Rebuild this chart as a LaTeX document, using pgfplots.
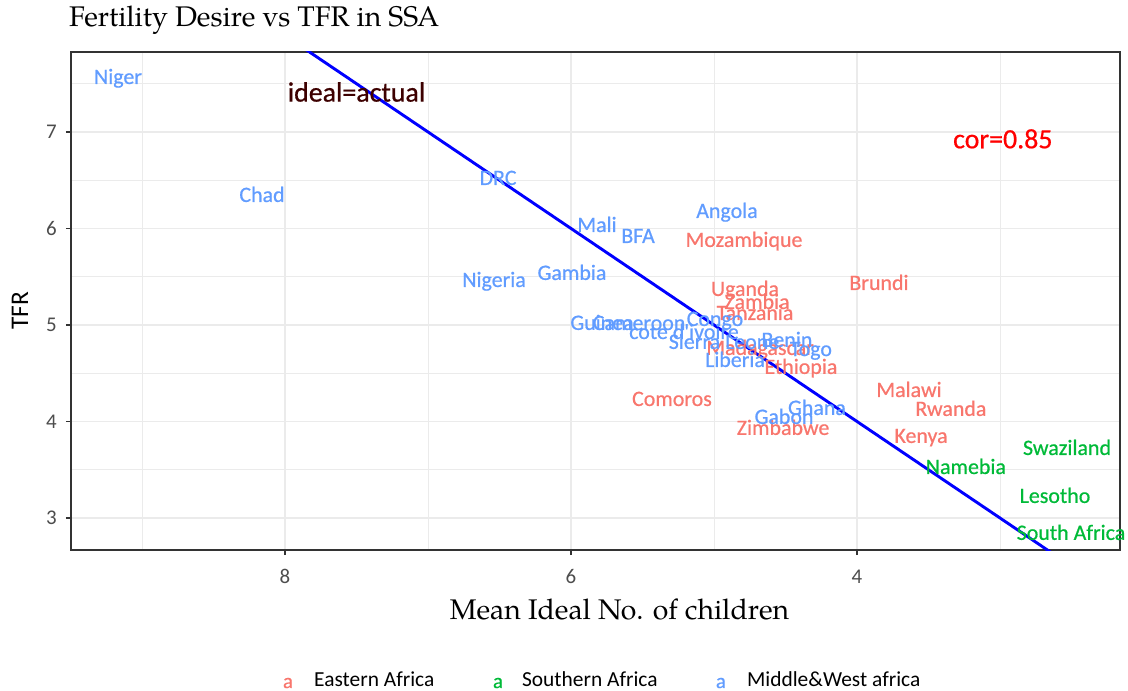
\documentclass[border=0pt]{standalone}
\usepackage{pgfplots}
\pgfplotsset{compat=1.18}
\usepackage{fontspec}
\setmainfont{Carlito}
\newfontfamily\pal{TeX Gyre Pagella}
\newfontfamily\lab{Carlito}[FakeBold=0.6]
\definecolor{eastc}{HTML}{F8766D}
\definecolor{southc}{HTML}{00BA38}
\definecolor{westc}{HTML}{619CFF}
\definecolor{gridc}{HTML}{EBEBEB}
\definecolor{axisc}{HTML}{333333}
\definecolor{tickc}{HTML}{4D4D4D}
\definecolor{idealc}{HTML}{3D0000}
\newcommand\fs[1]{\fontsize{#1}{#1}\selectfont}
\begin{document}
\begin{tikzpicture}
\useasboundingbox (-71bp,-141bp) rectangle (1057bp,550bp);
\begin{axis}[
  scale only axis, width=1049bp, height=498bp,
  x dir=reverse,
  xmin=2.161, xmax=9.497, ymin=2.668, ymax=7.829,
  xtick={4,6,8}, ytick={3,4,5,6,7},
  minor xtick={3,5,7,9}, minor ytick={3.5,4.5,5.5,6.5,7.5},
  grid=both,
  major grid style={color=gridc, line width=1.8bp},
  minor grid style={color=gridc, line width=0.9bp},
  axis line style={color=axisc, line width=1.8bp},
  tick style={color=axisc, line width=1.2bp},
  major tick length=5bp, minor tick length=0pt,
  tick align=outside, tick pos=left,
  clip mode=individual,
  /pgf/number format/assume math mode=true,
  ticklabel style={font=\fs{21}, text=tickc, inner sep=0pt, text height=13.3bp, text depth=0pt},
  xticklabel style={anchor=north, yshift=-15bp},
  yticklabel style={anchor=east, xshift=-9bp},
  title={Fertility Desire vs TFR in SSA},
  title style={font=\pal\fs{28.5}, anchor=base west, at={(-0.0019,1.0396)}, inner sep=0pt},
  xlabel={Mean Ideal No. of children},
  xlabel style={font=\pal\fs{28.5}, anchor=base, at={(0.5229,-0.1392)}, inner sep=0pt},
  ylabel={TFR},
  ylabel style={font=\fs{25.5}, at={(-0.0486,0.48)}, anchor=center, inner sep=0pt, text height=16.1bp, text depth=0pt},
  every node near coord/.append style={font=\lab\fs{22}, anchor=center, inner sep=0pt, text height=13.9bp, text depth=0pt},
]
\addplot[color=blue, line width=2.9bp] coordinates {(10,10) (2,2)};

% Eastern Africa
\addplot[draw=none, mark=none, nodes near coords, point meta=explicit symbolic,
  every node near coord/.append style={text=eastc}]
  table[col sep=comma, row sep=\\, x=x, y=y, meta=label] {
x,y,label\\
4.790,5.881,Mozambique\\
4.783,5.373,Uganda\\
4.699,5.238,Zambia\\
4.713,5.124,Tanzania\\
3.846,5.435,Brundi\\
4.678,4.762,Madagascar\\
4.392,4.565,Ethiopia\\
5.294,4.233,Comoros\\
4.517,3.933,Zimbabwe\\
3.636,4.326,Malawi\\
3.343,4.130,Rwanda\\
3.552,3.850,Kenya\\
};

% Southern Africa
\addplot[draw=none, mark=none, nodes near coords, point meta=explicit symbolic,
  every node near coord/.append style={text=southc}]
  table[col sep=comma, row sep=\\, x=x, y=y, meta=label] {
x,y,label\\
2.531,3.725,Swaziland\\
3.238,3.528,Namebia\\
2.615,3.228,Lesotho\\
2.503,2.845,South Africa\\
};

% Middle & West Africa
\addplot[draw=none, mark=none, nodes near coords, point meta=explicit symbolic,
  every node near coord/.append style={text=westc}]
  table[col sep=comma, row sep=\\, x=x, y=y, meta=label] {
x,y,label\\
9.168,7.570,Niger\\
8.161,6.347,Chad\\
6.510,6.523,DRC\\
5.818,6.036,Mali\\
5.531,5.922,BFA\\
4.909,6.181,Angola\\
6.538,5.466,Nigeria\\
5.993,5.539,Gambia\\
5.783,5.021,Guinea\\
5.524,5.020,Cameroon\\
4.993,5.062,Congo\\
5.210,4.927,cote d'ivoire\\
4.930,4.824,Sierra Leone\\
4.490,4.845,Benin\\
4.322,4.750,Togo\\
4.853,4.637,Liberia\\
4.280,4.140,Ghana\\
4.510,4.047,Gabon\\
};

\node[font=\lab\fs{28}, text=idealc, anchor=base, inner sep=0pt] at (axis cs:7.5,7.315) {ideal=actual};
\node[font=\lab\fs{28}, text=red, anchor=base, inner sep=0pt] at (axis cs:2.98,6.831) {cor=0.85};

% legend
\node[font=\lab\fs{21}, text=eastc, anchor=base, inner sep=0pt] at (axis description cs:0.2069,-0.2771) {a};
\node[font=\fs{21.5}, anchor=base west, inner sep=0pt] at (axis description cs:0.2317,-0.2731) {Eastern Africa};
\node[font=\lab\fs{21}, text=southc, anchor=base, inner sep=0pt] at (axis description cs:0.4071,-0.2771) {a};
\node[font=\fs{21.5}, anchor=base west, inner sep=0pt] at (axis description cs:0.4299,-0.2731) {Southern Africa};
\node[font=\lab\fs{21}, text=westc, anchor=base, inner sep=0pt] at (axis description cs:0.6196,-0.2771) {a};
\node[font=\fs{21.5}, anchor=base west, inner sep=0pt] at (axis description cs:0.6444,-0.2731) {Middle\&West africa};
\end{axis}
\end{tikzpicture}
\end{document}
